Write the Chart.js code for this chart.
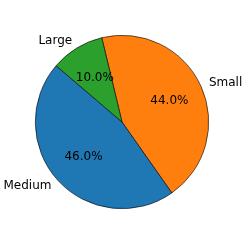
<!DOCTYPE html>
<html>
<head>
<meta charset="utf-8">
<script src="https://cdn.jsdelivr.net/npm/chart.js@4"></script>
<style>
  html, body { margin: 0; padding: 0; background: #fff; }
  #wrap { width: 246px; height: 246px; }
</style>
</head>
<body>
<div id="wrap"><canvas id="pie" width="246" height="246"></canvas></div>
<script>
// data
const categories = ['Small', 'Medium', 'Large'];
const shares = [44, 46, 10];
const sliceColors = ['#ff7f0e', '#1f77b4', '#2ca02c'];

// draws outer labels and percentages like matplotlib's pie(autopct=...)
const pieText = {
    id: 'pieText',
    afterDatasetsDraw(chart) {
        const ctx = chart.ctx;
        const meta = chart.getDatasetMeta(0);
        const total = shares.reduce((a, b) => a + b, 0);
        ctx.save();
        ctx.font = '12px "DejaVu Sans"';
        ctx.fillStyle = '#000';
        ctx.textBaseline = 'middle';
        meta.data.forEach((arc, i) => {
            const p = arc.getProps(['x', 'y', 'startAngle', 'endAngle', 'outerRadius'], true);
            const mid = (p.startAngle + p.endAngle) / 2;
            const cx = Math.cos(mid), cy = Math.sin(mid);
            // category label at 1.1 r
            ctx.textAlign = cx > 0 ? 'left' : 'right';
            ctx.fillText(categories[i], p.x + cx * p.outerRadius * 1.1, p.y + cy * p.outerRadius * 1.1);
            // percentage at 0.6 r
            ctx.textAlign = 'center';
            const pct = (shares[i] / total * 100).toFixed(1) + '%';
            ctx.fillText(pct, p.x + cx * p.outerRadius * 0.6, p.y + cy * p.outerRadius * 0.6);
        });
        ctx.restore();
    }
};

new Chart(document.getElementById('pie').getContext('2d'), {
    type: 'pie',
    data: {
        labels: categories,
        datasets: [{
            data: shares,
            backgroundColor: sliceColors,
            borderColor: '#000',
            borderWidth: 0.6
        }]
    },
    options: {
        responsive: false,
        animation: false,
        rotation: -13.5,
        layout: { padding: { left: 35, right: 37, top: 35, bottom: 37 } },
        plugins: {
            legend: { display: false },
            tooltip: { enabled: false }
        }
    },
    plugins: [pieText]
});
</script>
</body>
</html>
